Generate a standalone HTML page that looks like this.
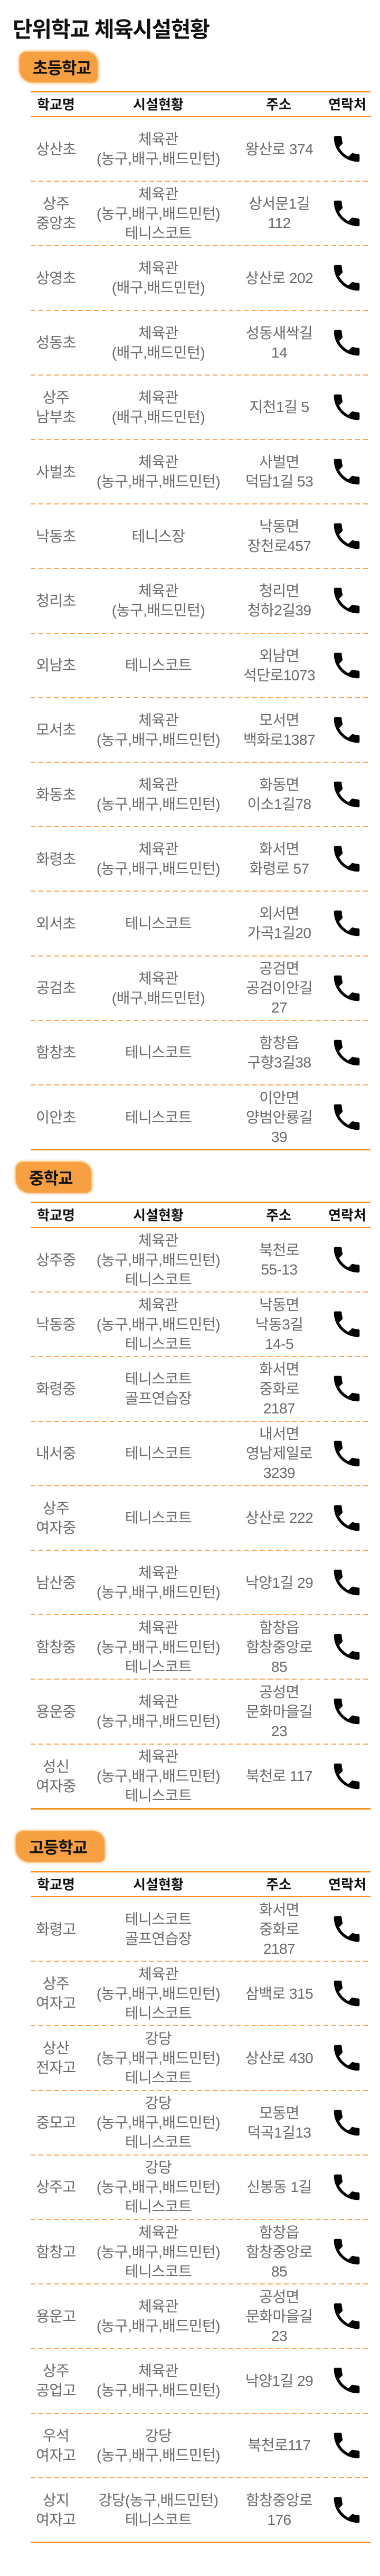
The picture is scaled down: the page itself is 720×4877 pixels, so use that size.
<!DOCTYPE html>
<html lang="ko">
<head>
<meta charset="utf-8">
<style>
  html,body{margin:0;padding:0;background:#fff;}
  body{width:720px;height:4877px;position:relative;overflow:hidden;
       font-family:"Liberation Sans","Noto Sans CJK KR",sans-serif;}
  .title{position:absolute;left:24px;top:22px;font-size:41px;font-weight:bold;color:#111;
         letter-spacing:-1.5px;white-space:nowrap;font-family:"Noto Sans CJK KR","Liberation Sans",sans-serif;}
  .badge{position:absolute;height:58px;}
  .badge .brush{position:absolute;inset:0;background:#f6a041;border-radius:14px 22px 10px 26px;
        box-shadow:0 0 4px 2px #f8b86a;}
  .badge .lbl{position:absolute;left:25px;top:6px;font-size:31px;font-weight:bold;color:#111;
        font-family:"Noto Sans CJK KR",sans-serif;letter-spacing:-1px;}
  .line-solid{position:absolute;left:58px;width:644px;height:3px;background:#f7901e;}
  .line-dash{position:absolute;left:58px;width:644px;height:2px;
        background:repeating-linear-gradient(90deg,#f9a456 0 9px,transparent 9px 15px);}
  .hdr{position:absolute;left:58px;width:644px;height:45px;font-size:26px;font-weight:bold;color:#111;
       font-family:"Noto Sans CJK KR",sans-serif;}
  .hdr span{position:absolute;top:0;line-height:45px;text-align:center;}
  .row{position:absolute;left:58px;width:644px;}
  .cell{position:absolute;top:0;height:100%;display:flex;align-items:center;justify-content:center;
        text-align:center;font-size:28px;line-height:37px;color:#6a6a6a;white-space:nowrap;letter-spacing:-0.5px;}
  .c1{left:0;width:96px;}
  .c2{left:96px;width:292px;}
  .c3{left:388px;width:166px;}
  .c4{left:554px;width:90px;}
</style>
</head>
<body>
<div class="title">단위학교 체육시설현황</div>
<div id="root"></div>
<script>
const sectionNames = ['초등학교','중학교','고등학교'];
const elemSchools = [
 ['상산초','체육관|(농구,배구,배드민턴)','왕산로 374'],
 ['상주|중앙초','체육관|(농구,배구,배드민턴)|테니스코트','상서문1길|112'],
 ['상영초','체육관|(배구,배드민턴)','상산로 202'],
 ['성동초','체육관|(배구,배드민턴)','성동새싹길|14'],
 ['상주|남부초','체육관|(배구,배드민턴)','지천1길 5'],
 ['사벌초','체육관|(농구,배구,배드민턴)','사벌면|덕담1길 53'],
 ['낙동초','테니스장','낙동면|장천로457'],
 ['청리초','체육관|(농구,배드민턴)','청리면|청하2길39'],
 ['외남초','테니스코트','외남면|석단로1073'],
 ['모서초','체육관|(농구,배구,배드민턴)','모서면|백화로1387'],
 ['화동초','체육관|(농구,배구,배드민턴)','화동면|이소1길78'],
 ['화령초','체육관|(농구,배구,배드민턴)','화서면|화령로 57'],
 ['외서초','테니스코트','외서면|가곡1길20'],
 ['공검초','체육관|(배구,배드민턴)','공검면|공검이안길|27'],
 ['함창초','테니스코트','함창읍|구향3길38'],
 ['이안초','테니스코트','이안면|양범안룡길|39']
];
const midSchools = [
 ['상주중','체육관|(농구,배구,배드민턴)|테니스코트','북천로|55-13'],
 ['낙동중','체육관|(농구,배구,배드민턴)|테니스코트','낙동면|낙동3길|14-5'],
 ['화령중','테니스코트|골프연습장','화서면|중화로|2187'],
 ['내서중','테니스코트','내서면|영남제일로|3239'],
 ['상주|여자중','테니스코트','상산로 222'],
 ['남산중','체육관|(농구,배구,배드민턴)','낙양1길 29'],
 ['함창중','체육관|(농구,배구,배드민턴)|테니스코트','함창읍|함창중앙로|85'],
 ['용운중','체육관|(농구,배구,배드민턴)','공성면|문화마을길|23'],
 ['성신|여자중','체육관|(농구,배구,배드민턴)|테니스코트','북천로 117']
];
const highSchools = [
 ['화령고','테니스코트|골프연습장','화서면|중화로|2187'],
 ['상주|여자고','체육관|(농구,배구,배드민턴)|테니스코트','삼백로 315'],
 ['상산|전자고','강당|(농구,배구,배드민턴)|테니스코트','상산로 430'],
 ['중모고','강당|(농구,배구,배드민턴)|테니스코트','모동면|덕곡1길13'],
 ['상주고','강당|(농구,배구,배드민턴)|테니스코트','신봉동 1길'],
 ['함창고','체육관|(농구,배구,배드민턴)|테니스코트','함창읍|함창중앙로|85'],
 ['용운고','체육관|(농구,배구,배드민턴)','공성면|문화마을길|23'],
 ['상주|공업고','체육관|(농구,배구,배드민턴)','낙양1길 29'],
 ['우석|여자고','강당|(농구,배구,배드민턴)','북천로117'],
 ['상지|여자고','강당(농구,배드민턴)|테니스코트','함창중앙로|176']
];
const headerLabels = ['학교명','시설현황','주소','연락처'];

const layout = [
  {badgeTop:98, badgeLeft:37, badgeW:148, topLine:172, rows:elemSchools},
  {badgeTop:2200, badgeLeft:30, badgeW:143, topLine:2275, rows:midSchools},
  {badgeTop:3467, badgeLeft:30, badgeW:168, topLine:3542, rows:highSchools}
];
const ROW_H = 122.2;
const HDR_H = 48;
const hdrCenters = [48, 242, 470, 600];
const phoneSvg = '<svg width="54" height="54" viewBox="2 2 20 20"><path fill="#000" d="M6.62 10.79c1.44 2.83 3.76 5.14 6.59 6.59l2.2-2.2c.27-.27.67-.36 1.02-.24 1.12.37 2.33.57 3.57.57.55 0 1 .45 1 1V20c0 .55-.45 1-1 1-9.39 0-17-7.61-17-17 0-.55.45-1 1-1h3.5c.55 0 1 .45 1 1 0 1.25.2 2.45.57 3.57.11.35.03.74-.25 1.02l-2.2 2.2z"/></svg>';

const root = document.getElementById('root');
layout.forEach((sec, si) => {
  const badge = document.createElement('div');
  badge.className = 'badge';
  
  
  badge.style.top = sec.badgeTop + 'px';
  badge.style.left = sec.badgeLeft + 'px';
  badge.style.width = sec.badgeW + 'px';
  badge.innerHTML = '<div class="brush"></div><div class="lbl">' + sectionNames[si] + '</div>';
  root.appendChild(badge);

  const tl = document.createElement('div');
  tl.className = 'line-solid';
  
  
  tl.style.top = sec.topLine + 'px';
  root.appendChild(tl);

  const hdr = document.createElement('div');
  hdr.className = 'hdr';
  
  
  hdr.style.top = (sec.topLine + 2) + 'px';
  headerLabels.forEach((h, hi) => {
    const s = document.createElement('span');
    
    
    s.textContent = h;
    s.style.left = (hdrCenters[hi] - 60) + 'px';
    s.style.width = '120px';
    hdr.appendChild(s);
  });
  root.appendChild(hdr);

  const hb = document.createElement('div');
  hb.className = 'line-solid';
  
  
  hb.style.top = (sec.topLine + HDR_H) + 'px';
  hb.style.height = '2px';
  root.appendChild(hb);

  const start = sec.topLine + HDR_H + 1;
  sec.rows.forEach((r, ri) => {
    const row = document.createElement('div');
    row.className = 'row';
    
    
    row.style.top = (start + ri * ROW_H) + 'px';
    row.style.height = ROW_H + 'px';
    [r[0], r[1], r[2]].forEach((txt, ci) => {
      const c = document.createElement('div');
      c.className = 'cell c' + (ci + 1);
      
      
      c.innerHTML = '<div>' + txt.split('|').join('<br>') + '</div>';
      row.appendChild(c);
    });
    const p = document.createElement('div');
    p.className = 'cell c4';
    
    
    p.innerHTML = phoneSvg;
    row.appendChild(p);
    root.appendChild(row);

    const ln = document.createElement('div');
    const last = ri === sec.rows.length - 1;
    ln.className = last ? 'line-solid' : 'line-dash';
    
    
    ln.style.top = (start + (ri + 1) * ROW_H - 1) + 'px';
    root.appendChild(ln);
  });
});
</script>
</body>
</html>
